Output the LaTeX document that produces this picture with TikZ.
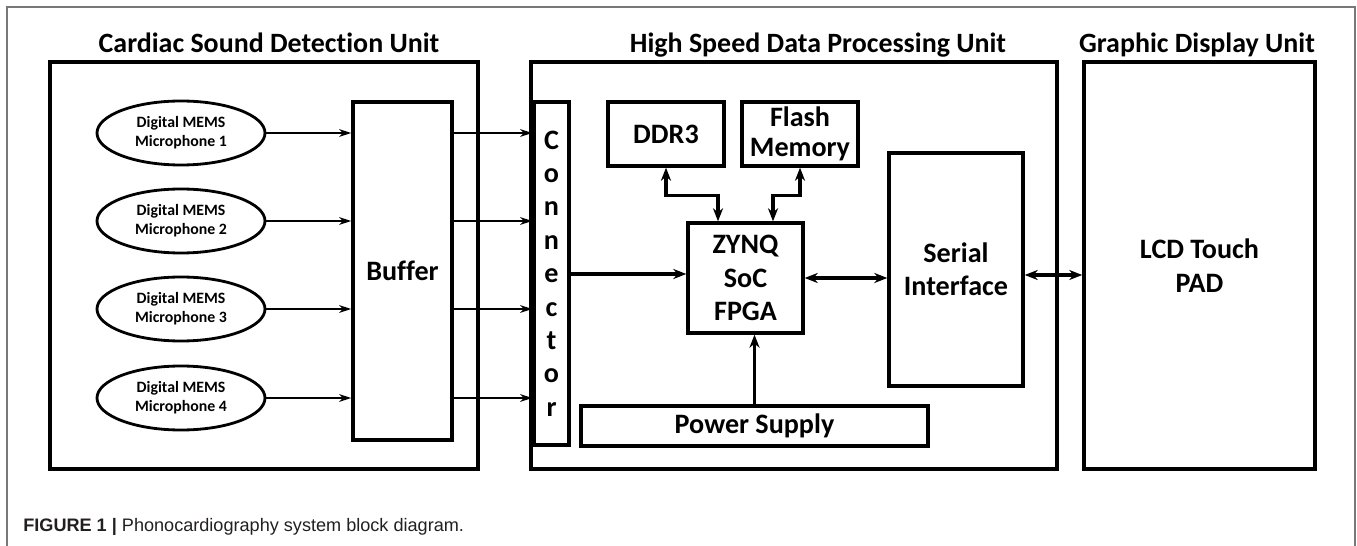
\documentclass[tikz,border=0pt]{standalone}
\usepackage{fontspec}
\setmainfont{Carlito}[Ligatures=NoCommon]
\newfontfamily\captionfont{Liberation Sans}
\definecolor{framegray}{RGB}{120, 120, 120}
\definecolor{captiontext}{RGB}{35, 31, 32}
\usepackage{tikz}
\usetikzlibrary{shapes, arrows.meta, positioning, calc}

\begin{document}
\begin{tikzpicture}[
    unitbox/.style={draw, line width=2pt, inner sep=0pt},
    blockbox/.style={draw, line width=1.9pt, inner sep=0pt, align=center, font=\fontsize{16}{19}\selectfont\bfseries},
    mic/.style={ellipse, draw, line width=1.6pt, minimum width=3.36cm, minimum height=1.28cm, inner sep=0pt, align=center, font=\fontsize{9}{10.8}\selectfont\bfseries},
    unittitle/.style={anchor=base, font=\fontsize{15.9}{18}\selectfont\bfseries},
    link/.style={line width=1.1pt, -{Stealth[length=0.24cm, width=0.15cm, inset=0.07cm]}},
    bus/.style={line width=1.9pt, -{Stealth[length=0.26cm, width=0.2cm, inset=0.08cm]}},
    dualbus/.style={line width=1.9pt, {Stealth[length=0.26cm, width=0.2cm, inset=0.08cm]}-{Stealth[length=0.26cm, width=0.2cm, inset=0.08cm]}}
  ]
  \useasboundingbox (0, 0) rectangle (27.14, -10.92);

  % Page frame
  \draw[framegray, line width=0.8pt] (0.14, -10.92) -- (0.14, -0.14) -- (27.10, -0.14) -- (27.10, -10.92);

  % Units
  \node[unitbox, minimum width=8.56cm, minimum height=8.14cm] (cdu) at (5.28, -5.31) {};
  \node[unitbox, minimum width=10.52cm, minimum height=8.14cm] (hsdpu) at (15.88, -5.31) {};
  \node[unitbox, minimum width=4.62cm, minimum height=8.14cm, font=\fontsize{16}{19}\selectfont\bfseries, align=center] (gdu) at (23.99, -5.31) {LCD Touch\\PAD};

  \node[unittitle] (cdutitle) at (5.38, -1.06) {Cardiac Sound Detection Unit};
  \node[unittitle] (hsdputitle) at (16.36, -1.06) {High Speed Data Processing Unit};
  \node[unittitle] (gdutitle) at (23.94, -1.06) {Graphic Display Unit};

  % Cardiac sound detection
  \node[blockbox, minimum width=1.98cm, minimum height=6.76cm] (buffer) at (8.05, -5.42) {Buffer};
  \node[blockbox, minimum width=0.70cm, minimum height=6.86cm] (conn) at (11.03, -5.47) {C\\o\\n\\n\\e\\c\\t\\o\\r};

  \foreach \i/\y in {1/-2.66, 2/-4.42, 3/-6.18, 4/-7.96} {
    \node[mic] (mic\i) at (3.62, \y) {Digital MEMS\\Microphone \i};
    \draw[link] (mic\i.east) -- (mic\i.east -| buffer.west);
    \draw[link] (mic\i.east -| buffer.east) -- (mic\i.east -| conn.west);
  }

  % Data processing
  \node[blockbox, minimum width=2.32cm, minimum height=1.28cm] (ddr) at (13.32, -2.68) {DDR3};
  \node[blockbox, minimum width=2.32cm, minimum height=1.28cm, font=\fontsize{16}{17}\selectfont\bfseries] (flash) at (16.00, -2.68) {Flash\\Memory};
  \node[blockbox, minimum width=2.30cm, minimum height=2.20cm] (zynq) at (14.91, -5.56) {ZYNQ\\SoC\\FPGA};
  \node[blockbox, minimum width=2.68cm, minimum height=4.66cm] (serial) at (19.12, -5.39) {Serial\\Interface};
  \node[blockbox, minimum width=6.94cm, minimum height=0.80cm] (power) at (15.09, -8.52) {Power Supply};

  \draw[bus] ([yshift=0.08cm]zynq.west -| conn.east) -- ([yshift=0.08cm]zynq.west);
  \draw[dualbus] (ddr.south) -- ++(0, -0.56) -| ([xshift=-0.55cm]zynq.north);
  \draw[dualbus] (flash.south) -- ++(0, -0.56) -| ([xshift=0.55cm]zynq.north);
  \draw[dualbus] (zynq.east) -- (zynq.east -| serial.west);
  \draw[bus] (power.north) -- (power.north |- zynq.south);

  % Display link
  \draw[dualbus] ([yshift=-0.11cm]serial.east) -- ([yshift=-0.11cm]serial.east -| gdu.west);

  % Caption
  \node[anchor=base west, inner sep=0pt, text=captiontext, font=\captionfont\fontsize{10.3}{12}\selectfont] (caption) at (0.46, -10.62) {\textbf{FIGURE 1 |} Phonocardiography system block diagram.};
\end{tikzpicture}
\end{document}
